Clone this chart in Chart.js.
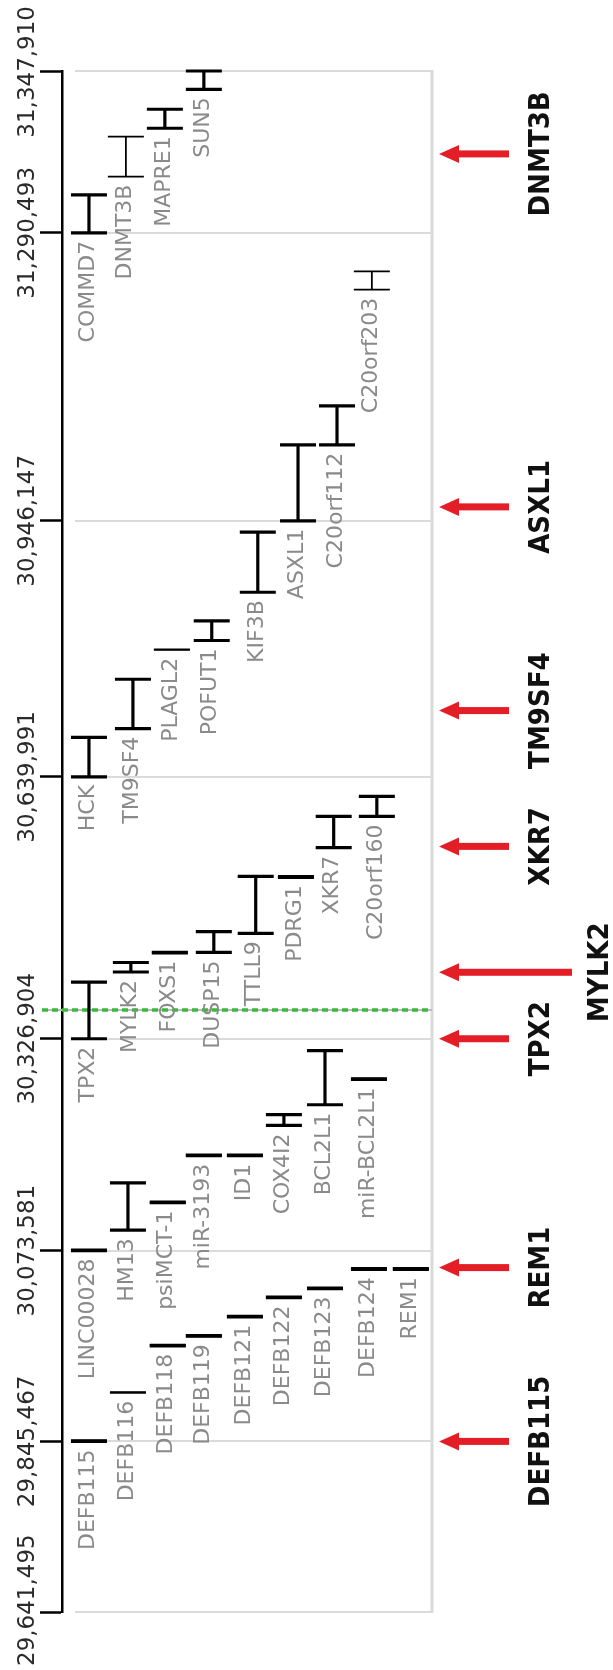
<!DOCTYPE html>
<html>
<head>
<meta charset="utf-8">
<script src="https://cdn.jsdelivr.net/npm/chart.js@4.4.1/dist/chart.umd.min.js"></script>
<style>
  html, body { margin: 0; padding: 0; background: #ffffff; }
  #wrap { width: 613px; height: 1670px; position: relative; }
</style>
</head>
<body>
<div id="wrap"><canvas id="chart" width="613" height="1670"></canvas></div>
<script>
// ---------------- DATA (chr20 positions) ----------------
const tickPositions = [29641495, 29845467, 30073581, 30326904, 30639991, 30946147, 31290493, 31347910];

const geneNames = ['SUN5', 'MAPRE1', 'DNMT3B', 'COMMD7', 'C20orf203', 'C20orf112', 'ASXL1', 'KIF3B',
  'POFUT1', 'PLAGL2', 'TM9SF4', 'HCK', 'C20orf160', 'XKR7', 'PDRG1', 'TTLL9', 'DUSP15', 'FOXS1',
  'MYLK2', 'TPX2', 'BCL2L1', 'miR-BCL2L1', 'COX4I2', 'ID1', 'miR-3193', 'psiMCT-1', 'HM13',
  'LINC00028', 'DEFB124', 'REM1', 'DEFB123', 'DEFB122', 'DEFB121', 'DEFB119', 'DEFB118',
  'DEFB116', 'DEFB115'];

const geneStart = [31341424, 31327603, 31310450, 31290493, 31222577, 31037061, 30946147, 30860768,
  30803076, 30791855, 30697694, 30639991, 30592666, 30555336, 30519932, 30452979, 30430099, 30429617,
  30406737, 30326904, 30247965, 30278244, 30223222, 30187052, 30187052, 30130969, 30097980,
  30073581, 30051248, 30051248, 30028198, 30017449, 29994399, 29971229, 29959764,
  29903632, 29845467];

const geneEnd = [31347910, 31334336, 31324626, 31303964, 31244382, 31083529, 31037061, 30932730,
  30826616, 30792555, 30756728, 30687205, 30616750, 30592666, 30520632, 30521136, 30454905, 30430317,
  30418057, 30394695, 30312766, 30278944, 30236183, 30187752, 30187752, 30131669, 30154533,
  30074281, 30051948, 30051948, 30028898, 30018149, 29995099, 29971929, 29960464,
  29904332, 29846167];

// lane (column) of each gene in the map
const geneTrack = [2.77, 1.83, 0.89, 0, 6.82, 5.98, 5.04, 4.07,
  2.96, 2.0, 1.06, 0, 6.94, 5.9, 4.99, 4.02, 3.01, 1.95,
  1.01, 0, 5.69, 6.75, 4.7, 3.76, 2.77, 1.9, 0.94,
  0, 6.75, 7.76, 5.69, 4.7, 3.76, 2.77, 1.9,
  0.94, 0];

// highlighted genes (red arrows on the right)
const markerNames = ['DNMT3B', 'ASXL1', 'TM9SF4', 'XKR7', 'MYLK2', 'TPX2', 'REM1', 'DEFB115'];
const markerPositions = [31318495, 30962830, 30719283, 30556901, 30406376, 30326904, 30053278, 29845467];

// green dotted breakpoint
const breakpointPosition = 30361460;

// the top interval of the map is drawn magnified
const zoomFrom = 31290493;
const zoomFactor = 3.37;

// ---------------- STYLE ----------------
const thinGenes = new Set(['DNMT3B', 'PLAGL2', 'DEFB116', 'C20orf203']);
const longArrows = new Set(['MYLK2']);
const GENE_FONT = '22px "DejaVu Sans", sans-serif';
const TICK_FONT = '23px "DejaVu Sans", sans-serif';
const MARK_FONT = 'bold 29px "DejaVu Sans Condensed", "DejaVu Sans", sans-serif';

function toAxis(g) {
  return g <= zoomFrom ? g : zoomFrom + (g - zoomFrom) * zoomFactor;
}

const datasets = geneNames.map((name, i) => {
  const w = thinGenes.has(name) ? 1.8 : 3.2;
  return {
    label: name,
    data: [{ x: geneTrack[i], y: toAxis(geneStart[i]) }, { x: geneTrack[i], y: toAxis(geneEnd[i]) }],
    showLine: true,
    borderColor: '#000000',
    backgroundColor: '#000000',
    borderWidth: w,
    pointStyle: 'line',
    pointRadius: 18,
    pointHoverRadius: 18,
    pointBorderWidth: w,
    pointBorderColor: '#000000',
    tension: 0,
    clip: false
  };
});

const backgroundPlugin = {
  id: 'mapBackground',
  beforeDatasetsDraw(chart) {
    const { ctx, chartArea, scales } = chart;
    const y = scales.y;
    ctx.save();
    ctx.strokeStyle = '#dadada';
    ctx.lineWidth = 2;
    tickPositions.forEach(v => {
      const py = Math.round(y.getPixelForValue(toAxis(v)));
      ctx.beginPath();
      ctx.moveTo(chartArea.left + 13, py);
      ctx.lineTo(chartArea.right, py);
      ctx.stroke();
    });
    ctx.lineWidth = 3;
    ctx.beginPath();
    ctx.moveTo(chartArea.right, y.getPixelForValue(y.max) - 1);
    ctx.lineTo(chartArea.right, y.getPixelForValue(y.min) + 1);
    ctx.stroke();
    const by = Math.round(y.getPixelForValue(toAxis(breakpointPosition)));
    ctx.strokeStyle = '#bdbdbd';
    ctx.lineWidth = 2;
    ctx.beginPath();
    ctx.moveTo(42, by);
    ctx.lineTo(chartArea.right, by);
    ctx.stroke();
    ctx.strokeStyle = '#3cb83c';
    ctx.lineWidth = 3.5;
    ctx.setLineDash([6, 4]);
    ctx.beginPath();
    ctx.moveTo(42, by);
    ctx.lineTo(chartArea.right, by);
    ctx.stroke();
    ctx.restore();
  }
};

const labelPlugin = {
  id: 'mapLabels',
  afterDraw(chart) {
    const { ctx, chartArea, scales, height } = chart;
    const x = scales.x, y = scales.y;
    ctx.save();
    ctx.font = GENE_FONT;
    ctx.fillStyle = '#8a8a8a';
    ctx.textAlign = 'right';
    ctx.textBaseline = 'middle';
    geneNames.forEach((name, i) => {
      const px = x.getPixelForValue(geneTrack[i]) - 1;
      const py = y.getPixelForValue(toAxis(geneStart[i])) + 8;
      ctx.save();
      ctx.translate(px, py);
      ctx.rotate(-Math.PI / 2);
      ctx.fillText(name, 0, 0);
      ctx.restore();
    });
    // axis tick labels (kept inside the canvas)
    ctx.font = TICK_FONT;
    ctx.fillStyle = '#2a2a2a';
    ctx.textAlign = 'center';
    tickPositions.forEach(v => {
      const text = v.toLocaleString('en-US');
      const half = ctx.measureText(text).width / 2;
      let py = y.getPixelForValue(toAxis(v));
      py = Math.min(Math.max(py, half + 6), height - half - 4);
      ctx.save();
      ctx.translate(28, py);
      ctx.rotate(-Math.PI / 2);
      ctx.fillText(text, 0, 0);
      ctx.restore();
    });
    markerNames.forEach((name, i) => {
      const py = y.getPixelForValue(toAxis(markerPositions[i]));
      const tip = chartArea.right + 7;
      const end = longArrows.has(name) ? 572 : 509;
      ctx.fillStyle = '#e41e26';
      ctx.fillRect(tip + 16, py - 3.5, end - tip - 16, 7);
      ctx.beginPath();
      ctx.moveTo(tip, py);
      ctx.lineTo(tip + 20, py - 9);
      ctx.lineTo(tip + 20, py + 9);
      ctx.closePath();
      ctx.fill();
      ctx.font = MARK_FONT;
      ctx.fillStyle = '#111111';
      ctx.textAlign = 'center';
      ctx.save();
      ctx.translate(longArrows.has(name) ? 600 : 541, py);
      ctx.rotate(-Math.PI / 2);
      ctx.fillText(name, 0, 0);
      ctx.restore();
    });
    ctx.restore();
  }
};

new Chart(document.getElementById('chart'), {
  type: 'scatter',
  data: { datasets },
  options: {
    responsive: false,
    maintainAspectRatio: false,
    animation: false,
    events: [],
    devicePixelRatio: 1,
    layout: { padding: { left: 0, right: 181, top: 71, bottom: 58 } },
    plugins: { legend: { display: false }, tooltip: { enabled: false } },
    scales: {
      x: { type: 'linear', min: -0.65, max: 8.27, display: false },
      y: {
        type: 'linear',
        min: toAxis(tickPositions[0]),
        max: toAxis(tickPositions[tickPositions.length - 1]),
        afterBuildTicks: s => { s.ticks = tickPositions.map(v => ({ value: toAxis(v) })); },
        afterFit: s => { s.width = 62; },
        ticks: { display: false },
        grid: { drawOnChartArea: false, drawTicks: true, tickLength: 22, tickWidth: 2.5, tickColor: '#000000' },
        border: { display: true, color: '#000000', width: 2.5 }
      }
    }
  },
  plugins: [backgroundPlugin, labelPlugin]
});
</script>
</body>
</html>
